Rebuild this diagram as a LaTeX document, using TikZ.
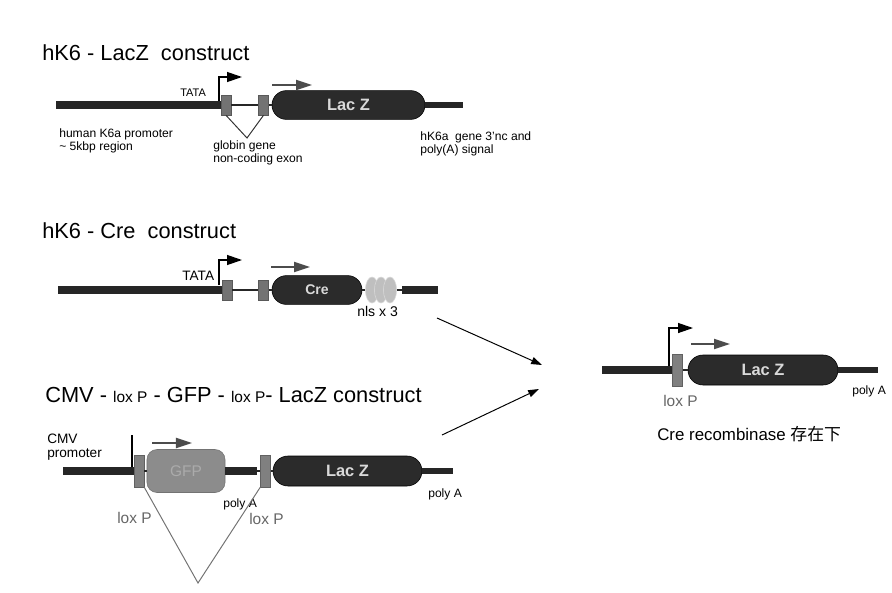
\documentclass[tikz,border=0pt]{standalone}
\usepackage{fontspec}
\setmainfont{Liberation Sans}
\newfontfamily\cjk{Noto Sans CJK SC}
\usetikzlibrary{arrows.meta,shapes.misc,shapes.geometric}

\begin{document}
\begin{tikzpicture}[x=0.025cm,y=-0.025cm,
  cname/.style={anchor=base west,inner sep=0pt,font=\fontsize{15.5}{18}\selectfont},
  lbl/.style={anchor=base west,inner sep=0pt,align=left,font=\fontsize{8.6}{9}\selectfont},
  loxlbl/.style={anchor=base west,inner sep=0pt,text=black!60,font=\fontsize{11}{13}\selectfont},
  dna/.style={line width=5pt,draw=black!85},
  link/.style={line width=1.4pt,draw=black!85},
  exon/.style={draw=black!65,fill=black!55,minimum width=0.25cm,minimum height=0.5cm,inner sep=0pt},
  lox/.style={draw=black!62,fill=black!50,minimum width=0.25cm,minimum height=0.8cm,inner sep=0pt},
  gene/.style={rounded rectangle,draw=black,fill=black!83,minimum height=0.72cm,inner sep=0pt,
               text=black!15,font=\fontsize{11.7}{14}\selectfont\bfseries},
  gfp/.style={draw=black!55,fill=black!45,rounded corners=0.25cm,minimum width=1.95cm,
              minimum height=1.075cm,inner sep=0pt,text=black!33,font=\fontsize{11}{13}\selectfont},
  nls/.style={ellipse,draw=black!15,fill=black!25,minimum width=0.33cm,minimum height=0.65cm,inner sep=0pt},
  prom/.style={line width=0.9pt,-{Triangle[length=0.375cm,width=0.25cm]}},
  tx/.style={line width=1.4pt,black!70,-{Triangle[length=0.4cm,width=0.25cm]}},
  leader/.style={line width=0.7pt,black!80},
  arr/.style={line width=0.7pt,-{Triangle[length=0.27cm,width=0.18cm]}}
]
\useasboundingbox (0,0) rectangle (892,592);
% hK6 - LacZ construct
\node[cname] (t1) at (42,60) {hK6 - LacZ\ \ construct};
\coordinate (a1l) at (56,105);
\node[exon] (a1x1) at (226,105) {};
\node[exon] (a1x2) at (263.5,105) {};
\node[gene,minimum width=3.825cm] (a1g) at (348.5,105) {Lac Z};
\coordinate (a1r) at (463,105);
\draw[dna] (a1l) -- (a1x1.west);
\draw[link] (a1x1.east) -- (a1x2.west);
\draw[link] (a1x2.east) -- (a1g.west);
\draw[dna,line width=4.3pt] (a1g.east) -- (a1r);
\coordinate (a1p) at (219,101);
\coordinate (a1s) at (242,77);
\draw[prom] (a1p) |- (a1s);
\node[lbl,font=\fontsize{7.8}{9}\selectfont] (a1tata) at (180,96) {TATA};
\coordinate (a1t) at (272,85);
\coordinate (a1h) at (312,85);
\draw[tx] (a1t) -- (a1h);
\coordinate (a1v) at (247,138);
\draw[leader] (a1x1.south) -- (a1v) -- (a1x2.south);
\node[lbl] (a1pr) at (59,150) {human K6a promoter\\\textasciitilde{} 5kbp region};
\node[lbl] (a1gl) at (213,162) {globin gene\\non-coding exon};
\node[lbl] (a1pa) at (420,153) {hK6a\ \ gene 3'nc and\\poly(A) signal};
% hK6 - Cre construct
\node[cname] (t2) at (42,238) {hK6 - Cre\ \ construct};
\coordinate (a2l) at (58,290);
\node[exon] (a2x1) at (227,290) {};
\node[exon] (a2x2) at (263.5,290) {};
\node[gene,minimum width=2.25cm,font=\fontsize{10}{12}\selectfont\bfseries] (a2g) at (317,290) {Cre};
\node[nls] (n1) at (372,290) {};
\node[nls] (n2) at (381,290) {};
\node[nls] (n3) at (390,290) {};
\coordinate (a2k) at (402,290);
\coordinate (a2r) at (438,290);
\draw[dna] (a2l) -- (a2x1.west);
\draw[link] (a2x1.east) -- (a2x2.west);
\draw[link] (a2x2.east) -- (a2g.west);
\draw[link] (a2g.east) -- (n1.west);
\draw[link] (n3.east) -- (a2k);
\draw[dna] (a2k) -- (a2r);
\coordinate (a2p) at (219,285);
\coordinate (a2s) at (242,260);
\draw[prom] (a2p) |- (a2s);
\node[lbl,font=\fontsize{9.7}{11}\selectfont] (a2tata) at (182,280) {TATA};
\coordinate (a2t) at (271,267);
\coordinate (a2h) at (310,267);
\draw[tx] (a2t) -- (a2h);
\node[lbl,font=\fontsize{10}{12}\selectfont] (a2n) at (357,316) {nls x 3};
% CMV - loxP - GFP - loxP - LacZ construct
\node[cname] (t3) at (45,402) {CMV - {\fontsize{11}{13}\selectfont lox P} - GFP - {\fontsize{11}{13}\selectfont lox P}- LacZ construct};
\node[lbl,font=\fontsize{9.7}{9.4}\selectfont] (cmv) at (47,457) {CMV\\promoter};
\coordinate (a3l) at (63,471);
\node[lox] (lx1) at (139,471) {};
\node[gfp] (gfp) at (186,471) {GFP};
\coordinate (a3k) at (257,471);
\node[lox] (lx2) at (265.5,471) {};
\node[gene,minimum width=3.725cm,minimum height=0.75cm] (a3g) at (347.5,471) {Lac Z};
\coordinate (a3r) at (453,471);
\coordinate (a3p) at (132,467);
\coordinate (a3s) at (132,435);
\draw[dna] (a3l) -- (lx1.west);
\draw[line width=0.9pt] (a3p) -- (a3s);
\draw[link] (lx1.east) -- (gfp.west);
\draw[dna] (gfp.east) -- (a3k);
\draw[link] (a3k) -- (lx2.west);
\draw[link] (lx2.east) -- (a3g.west);
\draw[dna,line width=4.3pt] (a3g.east) -- (a3r);
\coordinate (a3t) at (152,443);
\coordinate (a3h) at (192,443);
\draw[tx] (a3t) -- (a3h);
\node[lbl] (a3pa1) at (223,507) {poly A};
\node[lbl] (a3pa2) at (428,497) {poly A};
\node[loxlbl] (a3lx1) at (117,523) {lox P};
\node[loxlbl] (a3lx2) at (249,524) {lox P};
\coordinate (a3v) at (198,583);
\draw[leader,black!55] (lx1.south east) -- (a3v) -- (lx2.south west);
% recombination arrows
\coordinate (m1) at (437,318);
\coordinate (m2) at (542,365);
\coordinate (m3) at (442,435);
\coordinate (m4) at (539,389);
\draw[arr] (m1) -- (m2);
\draw[arr] (m3) -- (m4);
% after Cre recombination
\coordinate (a4l) at (602,370);
\node[lox] (lx4) at (677.5,370) {};
\node[gene,minimum width=3.75cm,minimum height=0.75cm] (a4g) at (763,370) {Lac Z};
\coordinate (a4r) at (878,370);
\draw[dna] (a4l) -- (lx4.west);
\draw[link] (lx4.east) -- (a4g.west);
\draw[dna,line width=4.3pt] (a4g.east) -- (a4r);
\coordinate (a4p) at (669,366);
\coordinate (a4s) at (693,328);
\draw[prom] (a4p) |- (a4s);
\coordinate (a4t) at (691,344);
\coordinate (a4h) at (730,344);
\draw[tx] (a4t) -- (a4h);
\node[loxlbl] (a4lx) at (663,406) {lox P};
\node[lbl] (a4pa) at (852,394) {poly A};
\node[lbl,font=\fontsize{12}{14}\selectfont] (cap) at (657,440) {Cre recombinase {\cjk 存在下}};
\end{tikzpicture}
\end{document}
